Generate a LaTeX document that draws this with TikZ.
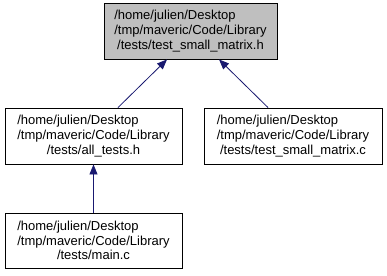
\documentclass[tikz,border=0pt]{standalone}
\usepackage{fontspec}
\setmainfont{Liberation Sans}
\usetikzlibrary{arrows.meta}
\definecolor{edgeblue}{HTML}{191970}
\definecolor{focusgray}{HTML}{BFBFBF}
% three-line file label: path lines flush left, file name centred under them
\newsavebox{\pathwidthbox}
\newcommand{\pathlabel}[1]{%
  \global\setbox\pathwidthbox=\hbox{/tmp/maveric/Code/Library}%
  \makebox[\wd\pathwidthbox][l]{/home/julien/Desktop}\\
  /tmp/maveric/Code/Library\\
  /tests/#1}
\begin{document}
\begin{tikzpicture}[x=1pt,y=-1pt,
  filebox/.style={draw=black,line width=0.9pt,inner sep=0pt,align=center,
    font=\fontsize{13}{14.6}\selectfont,minimum height=56pt},
  dep/.style={draw=edgeblue,line width=0.8pt,
    -{Triangle[length=10pt,width=8pt]}}]
\useasboundingbox (0,0) rectangle (387,275);
\node[filebox,fill=focusgray,minimum width=173pt] (top) at (190.5,31)
  {\pathlabel{test\_small\_matrix.h}};
\node[filebox,fill=white,minimum width=177pt] (all) at (93.5,136)
  {\pathlabel{all\_tests.h}};
\node[filebox,fill=white,minimum width=178pt] (tsm) at (293,136)
  {\pathlabel{test\_small\_matrix.c}};
\node[filebox,fill=white,minimum width=177pt,minimum height=55pt] (main) at (93.5,240.5)
  {\pathlabel{main.c}};
\draw[dep] ([xshift=24.5pt]all.north) -- ([xshift=-23.5pt]top.south);
\draw[dep] ([xshift=-25pt]tsm.north) -- ([xshift=28.5pt]top.south);
\draw[dep] (main.north) -- (all.south);
\end{tikzpicture}
\end{document}
